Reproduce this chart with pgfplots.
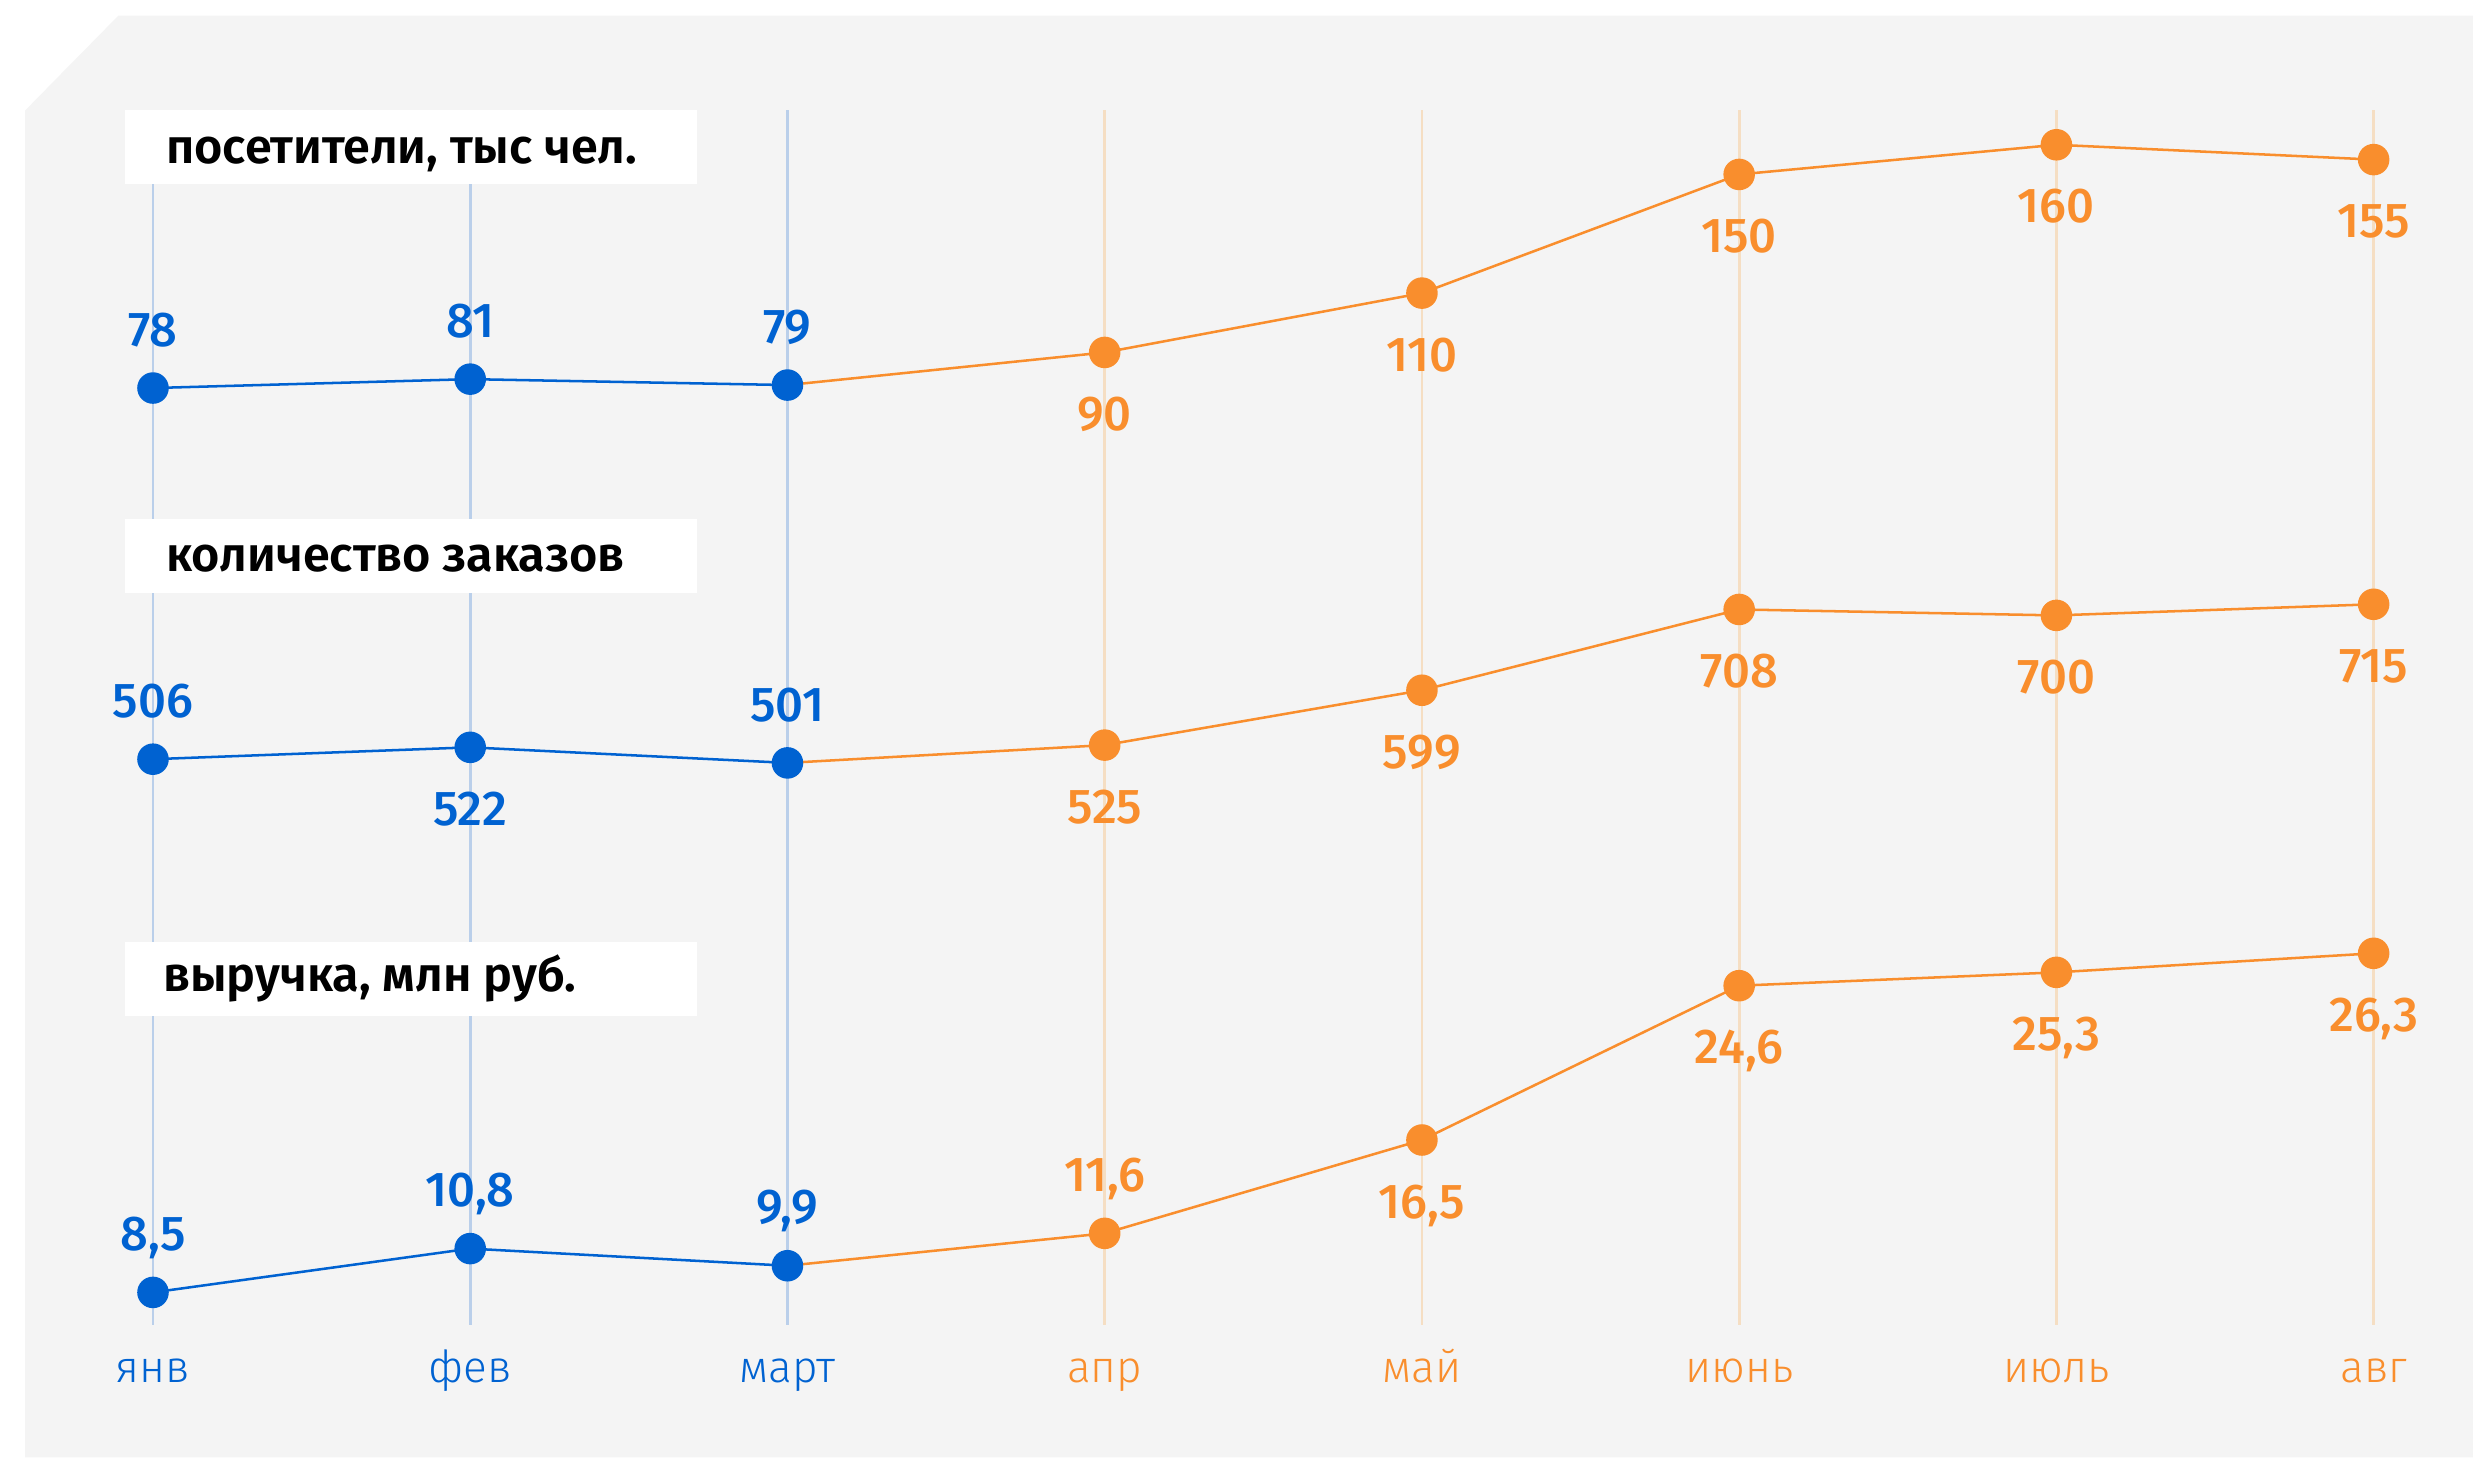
\documentclass[border=0pt]{standalone}
\usepackage{fontspec}
\setmainfont{Fira Sans}
\newfontfamily\semib{Fira Sans SemiBold}
\newfontfamily\medf{Fira Sans Medium}
\newfontfamily\lightf{Fira Sans Light}
\usepackage{pgfplots}
\pgfplotsset{compat=1.18}
\definecolor{cblue}{RGB}{0,98,209}
\definecolor{corange}{RGB}{249,142,45}
\definecolor{cgridb}{RGB}{186,207,234}
\definecolor{cgrido}{RGB}{245,222,195}
\definecolor{bgc}{RGB}{244,244,244}
\pgfplotsset{
  series/.style={scale only axis, width=704pt, xmin=0, xmax=7, clip=false,
    axis line style={draw=none}, tick style={draw=none}, xtick=\empty, ytick=\empty,
    anchor=south west},
  bline/.style={cblue, line width=0.8pt, mark=*, mark size=4.6pt, mark options={fill=cblue, draw=cblue}},
  oline/.style={corange, line width=0.8pt, mark=*, mark size=4.6pt, mark options={fill=corange, draw=corange}},
  lab/.style={draw=none, mark=none, nodes near coords, point meta=explicit symbolic},
  above/.style={nodes near coords style={font=\medf\fontsize{15.5}{15.5}\selectfont, text=#1, anchor=base, yshift=13.25pt}},
  below/.style={nodes near coords style={font=\medf\fontsize{15.5}{15.5}\selectfont, text=#1, anchor=base, yshift=-24.75pt}},
}
\begin{document}
\begin{tikzpicture}
\useasboundingbox (0,0) rectangle (784pt,462pt);
\fill[white] (0,0) rectangle (784pt,462pt);
\fill[bgc] (8pt,427pt) -- (37.5pt,457pt) -- (784pt,457pt) -- (784pt,0) -- (8pt,0) -- cycle;

% base axis with gridlines and month labels
\begin{axis}[scale only axis, width=704pt, height=385pt, at={(48.5pt,42pt)}, anchor=south west,
  xmin=0, xmax=7, ymin=0, ymax=1, clip=false,
  axis line style={draw=none}, tick style={draw=none}, ytick=\empty,
  xtick={0,1,2}, xticklabels={янв,фев,март},
  xticklabel style={text=cblue, font=\lightf\fontsize{14}{14}\selectfont, anchor=base, yshift=-18.25pt},
  xmajorgrids, major grid style={cgridb, line width=0.9pt},
  extra x ticks={3,4,5,6,7}, extra x tick labels={апр,май,июнь,июль,авг},
  extra x tick style={grid=major, major grid style={cgrido, line width=0.9pt}, xticklabel style={text=corange}},
]
\addplot[draw=none] coordinates {(0,0) (7,1)};
\end{axis}

% title boxes
\fill[white] (39.5pt,403.5pt) rectangle (221pt,427pt);
\fill[white] (39.5pt,274pt) rectangle (221pt,297.5pt);
\fill[white] (39.5pt,140pt) rectangle (221pt,163.5pt);
\node[anchor=base west, inner sep=0, font=\semib\fontsize{15.4}{15.4}\selectfont] at (52.5pt,410.25pt) {посетители, тыс чел.};
\node[anchor=base west, inner sep=0, font=\semib\fontsize{15.4}{15.4}\selectfont] at (52.5pt,280.75pt) {количество заказов};
\node[anchor=base west, inner sep=0, font=\semib\fontsize{15.4}{15.4}\selectfont] at (51.5pt,147.75pt) {выручка, млн руб.};

% visitors
\begin{axis}[series, at={(48.5pt,331.45pt)}, height=94.05pt, ymin=70, ymax=170]
\addplot[oline, mark indices={2,...,6}] coordinates {(2,79) (3,90) (4,110) (5,150) (6,160) (7,155)};
\addplot[bline] coordinates {(0,78) (1,81) (2,79)};
\addplot[lab, above=cblue] coordinates {(0,78)[78] (1,81)[81] (2,79)[79]};
\addplot[lab, below=corange] coordinates {(3,90)[90] (4,110)[110] (5,150)[150] (6,160)[160] (7,155)[155]};
\end{axis}

% orders
\begin{axis}[series, at={(48.5pt,219.9pt)}, height=51.7pt, ymin=500, ymax=720]
\addplot[oline, mark indices={2,...,6}] coordinates {(2,501) (3,525) (4,599) (5,708) (6,700) (7,715)};
\addplot[bline] coordinates {(0,506) (1,522) (2,501)};
\addplot[lab, above=cblue] coordinates {(0,506)[506] (2,501)[501]};
\addplot[lab, below=cblue] coordinates {(1,522)[522]};
\addplot[lab, below=corange] coordinates {(3,525)[525] (4,599)[599] (5,708)[708] (6,700)[700] (7,715)[715]};
\end{axis}

% revenue
\begin{axis}[series, at={(48.5pt,49.25pt)}, height=114.75pt, ymin=8, ymax=27]
\addplot[oline, mark indices={2,...,6}] coordinates {(2,9.9) (3,11.6) (4,16.5) (5,24.6) (6,25.3) (7,26.3)};
\addplot[bline] coordinates {(0,8.5) (1,10.8) (2,9.9)};
\addplot[lab, above=cblue] coordinates {(0,8.5)[8,5] (1,10.8)[10,8] (2,9.9)[9,9]};
\addplot[lab, above=corange] coordinates {(3,11.6)[11,6]};
\addplot[lab, below=corange] coordinates {(4,16.5)[16,5] (5,24.6)[24,6] (6,25.3)[25,3] (7,26.3)[26,3]};
\end{axis}
\end{tikzpicture}
\end{document}
